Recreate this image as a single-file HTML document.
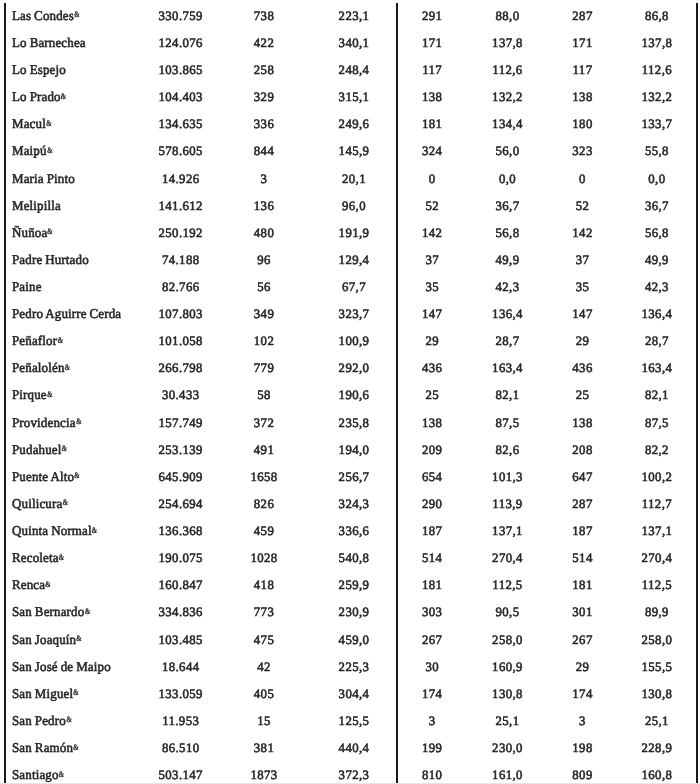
<!DOCTYPE html><html><head><meta charset="utf-8"><style>
*{margin:0;padding:0;box-sizing:border-box}
html,body{width:700px;height:784px;overflow:hidden;background:#fff}
body{position:relative;font-family:"Liberation Serif",serif;font-size:13.4px;color:#262626;-webkit-text-stroke:0.55px #262626;letter-spacing:0.4px;text-rendering:geometricPrecision;font-weight:normal}
.r{position:absolute;left:0;width:700px;height:20px;line-height:20px;white-space:nowrap}
.n{position:absolute;left:12px;transform:scaleX(0.97);transform-origin:0 50%;word-spacing:-0.5px;letter-spacing:0.15px}
.c{position:absolute;width:80px;text-align:center;transform:scaleX(1.0);transform-origin:50% 50%;font-size:12.8px}
.a{font-size:8.5px;position:relative;top:-2.5px;margin-left:0.0px;display:inline-block;transform:scaleX(0.85);transform-origin:0 50%;-webkit-text-stroke:0.2px #262626;letter-spacing:0;font-weight:bold}
.v{position:absolute;background:#1a1a1a}
.h{position:absolute;left:0;top:783px;width:700px;height:1px;background:#e6e6e6}
</style></head><body><div id="w" style="position:absolute;left:0;top:0;width:700px;height:784px;filter:blur(0.3px)">
<div class="h"></div>
<div class="v" style="left:4px;top:2.6px;width:2px;height:780px"></div>
<div class="v" style="left:396px;top:2.6px;width:2px;height:780px"></div>
<div class="v" style="left:696px;top:2.6px;width:2px;height:780px"></div>
<div class="r" style="top:5.80px"><span class="n">Las Condes<span class="a">&amp;</span></span><span class="c" style="left:140.7px">330.759</span><span class="c" style="left:224px">738</span><span class="c" style="left:314px">223,1</span><span class="c" style="left:392.2px">291</span><span class="c" style="left:467.5px">88,0</span><span class="c" style="left:542.5px">287</span><span class="c" style="left:616.9px">86,8</span></div>
<div class="r" style="top:32.92px"><span class="n">Lo Barnechea</span><span class="c" style="left:140.7px">124.076</span><span class="c" style="left:224px">422</span><span class="c" style="left:314px">340,1</span><span class="c" style="left:392.2px">171</span><span class="c" style="left:467.5px">137,8</span><span class="c" style="left:542.5px">171</span><span class="c" style="left:616.9px">137,8</span></div>
<div class="r" style="top:60.04px"><span class="n">Lo Espejo</span><span class="c" style="left:140.7px">103.865</span><span class="c" style="left:224px">258</span><span class="c" style="left:314px">248,4</span><span class="c" style="left:392.2px">117</span><span class="c" style="left:467.5px">112,6</span><span class="c" style="left:542.5px">117</span><span class="c" style="left:616.9px">112,6</span></div>
<div class="r" style="top:87.16px"><span class="n">Lo Prado<span class="a">&amp;</span></span><span class="c" style="left:140.7px">104.403</span><span class="c" style="left:224px">329</span><span class="c" style="left:314px">315,1</span><span class="c" style="left:392.2px">138</span><span class="c" style="left:467.5px">132,2</span><span class="c" style="left:542.5px">138</span><span class="c" style="left:616.9px">132,2</span></div>
<div class="r" style="top:114.28px"><span class="n">Macul<span class="a">&amp;</span></span><span class="c" style="left:140.7px">134.635</span><span class="c" style="left:224px">336</span><span class="c" style="left:314px">249,6</span><span class="c" style="left:392.2px">181</span><span class="c" style="left:467.5px">134,4</span><span class="c" style="left:542.5px">180</span><span class="c" style="left:616.9px">133,7</span></div>
<div class="r" style="top:141.40px"><span class="n">Maipú<span class="a">&amp;</span></span><span class="c" style="left:140.7px">578.605</span><span class="c" style="left:224px">844</span><span class="c" style="left:314px">145,9</span><span class="c" style="left:392.2px">324</span><span class="c" style="left:467.5px">56,0</span><span class="c" style="left:542.5px">323</span><span class="c" style="left:616.9px">55,8</span></div>
<div class="r" style="top:168.52px"><span class="n">Maria Pinto</span><span class="c" style="left:140.7px">14.926</span><span class="c" style="left:224px">3</span><span class="c" style="left:314px">20,1</span><span class="c" style="left:392.2px">0</span><span class="c" style="left:467.5px">0,0</span><span class="c" style="left:542.5px">0</span><span class="c" style="left:616.9px">0,0</span></div>
<div class="r" style="top:195.64px"><span class="n">Melipilla</span><span class="c" style="left:140.7px">141.612</span><span class="c" style="left:224px">136</span><span class="c" style="left:314px">96,0</span><span class="c" style="left:392.2px">52</span><span class="c" style="left:467.5px">36,7</span><span class="c" style="left:542.5px">52</span><span class="c" style="left:616.9px">36,7</span></div>
<div class="r" style="top:222.76px"><span class="n">Ñuñoa<span class="a">&amp;</span></span><span class="c" style="left:140.7px">250.192</span><span class="c" style="left:224px">480</span><span class="c" style="left:314px">191,9</span><span class="c" style="left:392.2px">142</span><span class="c" style="left:467.5px">56,8</span><span class="c" style="left:542.5px">142</span><span class="c" style="left:616.9px">56,8</span></div>
<div class="r" style="top:249.88px"><span class="n">Padre Hurtado</span><span class="c" style="left:140.7px">74.188</span><span class="c" style="left:224px">96</span><span class="c" style="left:314px">129,4</span><span class="c" style="left:392.2px">37</span><span class="c" style="left:467.5px">49,9</span><span class="c" style="left:542.5px">37</span><span class="c" style="left:616.9px">49,9</span></div>
<div class="r" style="top:277.00px"><span class="n">Paine</span><span class="c" style="left:140.7px">82.766</span><span class="c" style="left:224px">56</span><span class="c" style="left:314px">67,7</span><span class="c" style="left:392.2px">35</span><span class="c" style="left:467.5px">42,3</span><span class="c" style="left:542.5px">35</span><span class="c" style="left:616.9px">42,3</span></div>
<div class="r" style="top:304.12px"><span class="n">Pedro Aguirre Cerda</span><span class="c" style="left:140.7px">107.803</span><span class="c" style="left:224px">349</span><span class="c" style="left:314px">323,7</span><span class="c" style="left:392.2px">147</span><span class="c" style="left:467.5px">136,4</span><span class="c" style="left:542.5px">147</span><span class="c" style="left:616.9px">136,4</span></div>
<div class="r" style="top:331.24px"><span class="n">Peñaflor<span class="a">&amp;</span></span><span class="c" style="left:140.7px">101.058</span><span class="c" style="left:224px">102</span><span class="c" style="left:314px">100,9</span><span class="c" style="left:392.2px">29</span><span class="c" style="left:467.5px">28,7</span><span class="c" style="left:542.5px">29</span><span class="c" style="left:616.9px">28,7</span></div>
<div class="r" style="top:358.36px"><span class="n">Peñalolén<span class="a">&amp;</span></span><span class="c" style="left:140.7px">266.798</span><span class="c" style="left:224px">779</span><span class="c" style="left:314px">292,0</span><span class="c" style="left:392.2px">436</span><span class="c" style="left:467.5px">163,4</span><span class="c" style="left:542.5px">436</span><span class="c" style="left:616.9px">163,4</span></div>
<div class="r" style="top:385.48px"><span class="n">Pirque<span class="a">&amp;</span></span><span class="c" style="left:140.7px">30.433</span><span class="c" style="left:224px">58</span><span class="c" style="left:314px">190,6</span><span class="c" style="left:392.2px">25</span><span class="c" style="left:467.5px">82,1</span><span class="c" style="left:542.5px">25</span><span class="c" style="left:616.9px">82,1</span></div>
<div class="r" style="top:412.60px"><span class="n">Providencia<span class="a">&amp;</span></span><span class="c" style="left:140.7px">157.749</span><span class="c" style="left:224px">372</span><span class="c" style="left:314px">235,8</span><span class="c" style="left:392.2px">138</span><span class="c" style="left:467.5px">87,5</span><span class="c" style="left:542.5px">138</span><span class="c" style="left:616.9px">87,5</span></div>
<div class="r" style="top:439.72px"><span class="n">Pudahuel<span class="a">&amp;</span></span><span class="c" style="left:140.7px">253.139</span><span class="c" style="left:224px">491</span><span class="c" style="left:314px">194,0</span><span class="c" style="left:392.2px">209</span><span class="c" style="left:467.5px">82,6</span><span class="c" style="left:542.5px">208</span><span class="c" style="left:616.9px">82,2</span></div>
<div class="r" style="top:466.84px"><span class="n">Puente Alto<span class="a">&amp;</span></span><span class="c" style="left:140.7px">645.909</span><span class="c" style="left:224px">1658</span><span class="c" style="left:314px">256,7</span><span class="c" style="left:392.2px">654</span><span class="c" style="left:467.5px">101,3</span><span class="c" style="left:542.5px">647</span><span class="c" style="left:616.9px">100,2</span></div>
<div class="r" style="top:493.96px"><span class="n">Quilicura<span class="a">&amp;</span></span><span class="c" style="left:140.7px">254.694</span><span class="c" style="left:224px">826</span><span class="c" style="left:314px">324,3</span><span class="c" style="left:392.2px">290</span><span class="c" style="left:467.5px">113,9</span><span class="c" style="left:542.5px">287</span><span class="c" style="left:616.9px">112,7</span></div>
<div class="r" style="top:521.08px"><span class="n">Quinta Normal<span class="a">&amp;</span></span><span class="c" style="left:140.7px">136.368</span><span class="c" style="left:224px">459</span><span class="c" style="left:314px">336,6</span><span class="c" style="left:392.2px">187</span><span class="c" style="left:467.5px">137,1</span><span class="c" style="left:542.5px">187</span><span class="c" style="left:616.9px">137,1</span></div>
<div class="r" style="top:548.20px"><span class="n">Recoleta<span class="a">&amp;</span></span><span class="c" style="left:140.7px">190.075</span><span class="c" style="left:224px">1028</span><span class="c" style="left:314px">540,8</span><span class="c" style="left:392.2px">514</span><span class="c" style="left:467.5px">270,4</span><span class="c" style="left:542.5px">514</span><span class="c" style="left:616.9px">270,4</span></div>
<div class="r" style="top:575.32px"><span class="n">Renca<span class="a">&amp;</span></span><span class="c" style="left:140.7px">160.847</span><span class="c" style="left:224px">418</span><span class="c" style="left:314px">259,9</span><span class="c" style="left:392.2px">181</span><span class="c" style="left:467.5px">112,5</span><span class="c" style="left:542.5px">181</span><span class="c" style="left:616.9px">112,5</span></div>
<div class="r" style="top:602.44px"><span class="n">San Bernardo<span class="a">&amp;</span></span><span class="c" style="left:140.7px">334.836</span><span class="c" style="left:224px">773</span><span class="c" style="left:314px">230,9</span><span class="c" style="left:392.2px">303</span><span class="c" style="left:467.5px">90,5</span><span class="c" style="left:542.5px">301</span><span class="c" style="left:616.9px">89,9</span></div>
<div class="r" style="top:629.56px"><span class="n">San Joaquín<span class="a">&amp;</span></span><span class="c" style="left:140.7px">103.485</span><span class="c" style="left:224px">475</span><span class="c" style="left:314px">459,0</span><span class="c" style="left:392.2px">267</span><span class="c" style="left:467.5px">258,0</span><span class="c" style="left:542.5px">267</span><span class="c" style="left:616.9px">258,0</span></div>
<div class="r" style="top:656.68px"><span class="n">San José de Maipo</span><span class="c" style="left:140.7px">18.644</span><span class="c" style="left:224px">42</span><span class="c" style="left:314px">225,3</span><span class="c" style="left:392.2px">30</span><span class="c" style="left:467.5px">160,9</span><span class="c" style="left:542.5px">29</span><span class="c" style="left:616.9px">155,5</span></div>
<div class="r" style="top:683.80px"><span class="n">San Miguel<span class="a">&amp;</span></span><span class="c" style="left:140.7px">133.059</span><span class="c" style="left:224px">405</span><span class="c" style="left:314px">304,4</span><span class="c" style="left:392.2px">174</span><span class="c" style="left:467.5px">130,8</span><span class="c" style="left:542.5px">174</span><span class="c" style="left:616.9px">130,8</span></div>
<div class="r" style="top:710.92px"><span class="n">San Pedro<span class="a">&amp;</span></span><span class="c" style="left:140.7px">11.953</span><span class="c" style="left:224px">15</span><span class="c" style="left:314px">125,5</span><span class="c" style="left:392.2px">3</span><span class="c" style="left:467.5px">25,1</span><span class="c" style="left:542.5px">3</span><span class="c" style="left:616.9px">25,1</span></div>
<div class="r" style="top:738.04px"><span class="n">San Ramón<span class="a">&amp;</span></span><span class="c" style="left:140.7px">86.510</span><span class="c" style="left:224px">381</span><span class="c" style="left:314px">440,4</span><span class="c" style="left:392.2px">199</span><span class="c" style="left:467.5px">230,0</span><span class="c" style="left:542.5px">198</span><span class="c" style="left:616.9px">228,9</span></div>
<div class="r" style="top:765.16px"><span class="n">Santiago<span class="a">&amp;</span></span><span class="c" style="left:140.7px">503.147</span><span class="c" style="left:224px">1873</span><span class="c" style="left:314px">372,3</span><span class="c" style="left:392.2px">810</span><span class="c" style="left:467.5px">161,0</span><span class="c" style="left:542.5px">809</span><span class="c" style="left:616.9px">160,8</span></div>
</div></body></html>
